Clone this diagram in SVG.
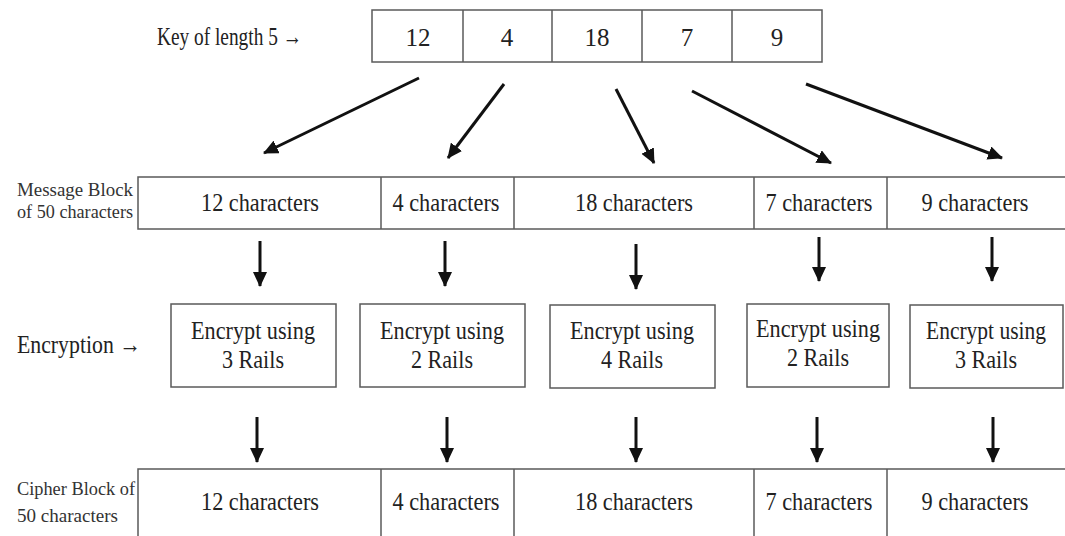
<svg xmlns="http://www.w3.org/2000/svg" width="1065" height="536" viewBox="0 0 1065 536">
  <style>
    .box { fill: #ffffff; stroke: #5a5a5a; stroke-width: 1.5; }
    .div { stroke: #5a5a5a; stroke-width: 1.5; }
    .t { font-family: "Liberation Serif", "Times New Roman", serif; font-size: 25px; fill: #222222; }
    .tc { font-family: "Liberation Serif", "Times New Roman", serif; font-size: 25px; fill: #222222; text-anchor: middle; }
    .s { font-family: "Liberation Serif", "Times New Roman", serif; font-size: 18px; fill: #333333; }
    .arrow { stroke: #111111; stroke-width: 3; fill: none; marker-end: url(#head); }
  </style>
  <defs>
    <marker id="head" markerUnits="userSpaceOnUse" markerWidth="16" markerHeight="14" refX="14" refY="7" orient="auto">
      <path d="M0,0 L15,7 L0,14 Z" fill="#111111"/>
    </marker>
  </defs>
  <rect width="1065" height="536" fill="#ffffff"/>

  <!-- row labels -->
  <g id="labels">
    <text class="t" x="157" y="45" textLength="145" lengthAdjust="spacingAndGlyphs">Key of length 5 →</text>
    <text class="s" x="17" y="196" textLength="116" lengthAdjust="spacingAndGlyphs">Message Block</text>
    <text class="s" x="17" y="218" textLength="116" lengthAdjust="spacingAndGlyphs">of 50 characters</text>
    <text class="t" x="17" y="353" textLength="124" lengthAdjust="spacingAndGlyphs">Encryption →</text>
    <text class="s" x="17" y="495" textLength="118" lengthAdjust="spacingAndGlyphs">Cipher Block of</text>
    <text class="s" x="17" y="522" textLength="101" lengthAdjust="spacingAndGlyphs">50 characters</text>
  </g>

  <!-- key table -->
  <g id="key">
    <rect class="box" x="372" y="10" width="450" height="52"/>
    <line class="div" x1="463" y1="10" x2="463" y2="62"/>
    <line class="div" x1="552" y1="10" x2="552" y2="62"/>
    <line class="div" x1="642" y1="10" x2="642" y2="62"/>
    <line class="div" x1="732" y1="10" x2="732" y2="62"/>
    <text class="tc" x="418" y="46">12</text>
    <text class="tc" x="507" y="46">4</text>
    <text class="tc" x="597" y="46">18</text>
    <text class="tc" x="687" y="46">7</text>
    <text class="tc" x="777" y="46">9</text>
  </g>

  <!-- message block -->
  <g id="message">
    <rect class="box" x="138" y="177" width="940" height="52"/>
    <line class="div" x1="381" y1="177" x2="381" y2="229"/>
    <line class="div" x1="514" y1="177" x2="514" y2="229"/>
    <line class="div" x1="754" y1="177" x2="754" y2="229"/>
    <line class="div" x1="887" y1="177" x2="887" y2="229"/>
    <text class="tc" x="260" y="211" textLength="118" lengthAdjust="spacingAndGlyphs">12 characters</text>
    <text class="tc" x="446" y="211" textLength="107" lengthAdjust="spacingAndGlyphs">4 characters</text>
    <text class="tc" x="634" y="211" textLength="118" lengthAdjust="spacingAndGlyphs">18 characters</text>
    <text class="tc" x="819" y="211" textLength="107" lengthAdjust="spacingAndGlyphs">7 characters</text>
    <text class="tc" x="975" y="211" textLength="107" lengthAdjust="spacingAndGlyphs">9 characters</text>
  </g>

  <!-- encryption steps -->
  <g id="enc1">
    <rect class="box" x="171" y="304" width="165" height="83"/>
    <text class="tc" x="253" y="339" textLength="124" lengthAdjust="spacingAndGlyphs">Encrypt using</text>
    <text class="tc" x="253" y="368" textLength="62" lengthAdjust="spacingAndGlyphs">3 Rails</text>
  </g>
  <g id="enc2">
    <rect class="box" x="360" y="304" width="165" height="83"/>
    <text class="tc" x="442" y="339" textLength="124" lengthAdjust="spacingAndGlyphs">Encrypt using</text>
    <text class="tc" x="442" y="368" textLength="62" lengthAdjust="spacingAndGlyphs">2 Rails</text>
  </g>
  <g id="enc3">
    <rect class="box" x="550" y="305" width="165" height="83"/>
    <text class="tc" x="632" y="339" textLength="124" lengthAdjust="spacingAndGlyphs">Encrypt using</text>
    <text class="tc" x="632" y="368" textLength="62" lengthAdjust="spacingAndGlyphs">4 Rails</text>
  </g>
  <g id="enc4">
    <rect class="box" x="747" y="304" width="142" height="83"/>
    <text class="tc" x="818" y="337" textLength="124" lengthAdjust="spacingAndGlyphs">Encrypt using</text>
    <text class="tc" x="818" y="366" textLength="62" lengthAdjust="spacingAndGlyphs">2 Rails</text>
  </g>
  <g id="enc5">
    <rect class="box" x="910" y="305" width="153" height="83"/>
    <text class="tc" x="986" y="339" textLength="120" lengthAdjust="spacingAndGlyphs">Encrypt using</text>
    <text class="tc" x="986" y="368" textLength="62" lengthAdjust="spacingAndGlyphs">3 Rails</text>
  </g>

  <!-- cipher block -->
  <g id="cipher">
    <rect class="box" x="138" y="469" width="940" height="80"/>
    <line class="div" x1="381" y1="469" x2="381" y2="536"/>
    <line class="div" x1="514" y1="469" x2="514" y2="536"/>
    <line class="div" x1="754" y1="469" x2="754" y2="536"/>
    <line class="div" x1="887" y1="469" x2="887" y2="536"/>
    <text class="tc" x="260" y="510" textLength="118" lengthAdjust="spacingAndGlyphs">12 characters</text>
    <text class="tc" x="446" y="510" textLength="107" lengthAdjust="spacingAndGlyphs">4 characters</text>
    <text class="tc" x="634" y="510" textLength="118" lengthAdjust="spacingAndGlyphs">18 characters</text>
    <text class="tc" x="819" y="510" textLength="107" lengthAdjust="spacingAndGlyphs">7 characters</text>
    <text class="tc" x="975" y="510" textLength="107" lengthAdjust="spacingAndGlyphs">9 characters</text>
  </g>

  <!-- connectors -->
  <g id="connectors">
    <line class="arrow" x1="419" y1="78" x2="264" y2="153"/>
    <line class="arrow" x1="504" y1="84" x2="448" y2="158"/>
    <line class="arrow" x1="616" y1="89" x2="654" y2="163"/>
    <line class="arrow" x1="692" y1="91" x2="831" y2="163"/>
    <line class="arrow" x1="806" y1="84" x2="1002" y2="158"/>

    <line class="arrow" x1="260" y1="241" x2="260" y2="286"/>
    <line class="arrow" x1="445" y1="241" x2="445" y2="286"/>
    <line class="arrow" x1="636" y1="244" x2="636" y2="289"/>
    <line class="arrow" x1="819" y1="237" x2="819" y2="281"/>
    <line class="arrow" x1="992" y1="237" x2="992" y2="281"/>

    <line class="arrow" x1="257" y1="417" x2="257" y2="462"/>
    <line class="arrow" x1="447" y1="417" x2="447" y2="462"/>
    <line class="arrow" x1="636" y1="417" x2="636" y2="462"/>
    <line class="arrow" x1="817" y1="417" x2="817" y2="462"/>
    <line class="arrow" x1="993" y1="417" x2="993" y2="462"/>
  </g>
</svg>
